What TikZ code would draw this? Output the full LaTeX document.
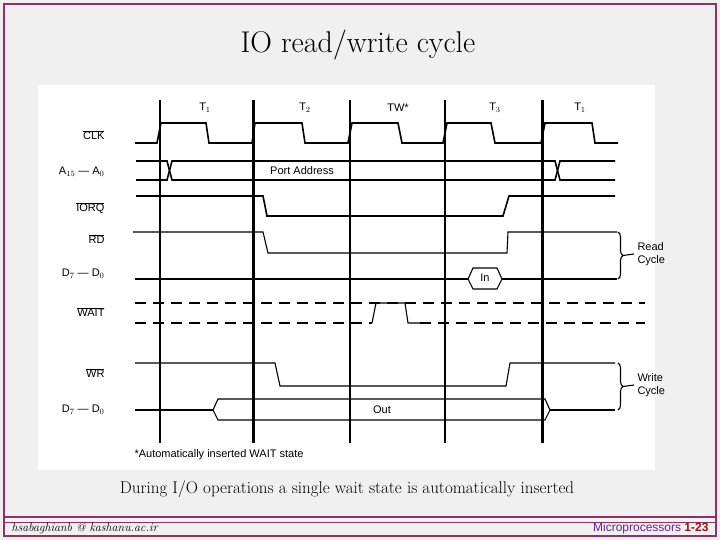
\documentclass[tikz,border=0pt]{standalone}
\usepackage{fontspec}
\setsansfont{Liberation Sans}
\usetikzlibrary{positioning,decorations.pathreplacing}
\definecolor{frame}{RGB}{140,50,100}
\definecolor{num}{RGB}{150,20,30}
\tikzset{
  sig/.style={line width=1.6pt},
  thin sig/.style={line width=1.1pt},
  tick/.style={line width=1.3pt},
  big tick/.style={line width=3pt},
  lbl/.style={font=\sffamily\fontsize{11}{12}\selectfont, anchor=east},
  phase/.style={font=\sffamily\fontsize{11}{12}\selectfont},
  bus text/.style={font=\sffamily\fontsize{11}{12}\selectfont},
  cyc/.style={font=\sffamily\fontsize{11}{13}\selectfont, align=left, anchor=west},
  brc/.style={decorate, decoration={brace, amplitude=5pt}, line width=1.1pt}
}
\begin{document}
\begin{tikzpicture}[x=1pt,y=-1pt]
\useasboundingbox (0,0) rectangle (720,540);
% background and frame
\fill[gray!12] (0,0) rectangle (720,540);
\draw[frame, line width=1.5pt] (4,4) rectangle (716,536);
\draw[frame, line width=2pt] (4,517) -- (716,517);
\draw[frame, line width=1pt] (4,522) -- (716,522);
\fill[white] (38,85) rectangle (655,470);
\node (title) at (358,45) {\fontsize{30}{32}\selectfont IO read/write cycle};

% clock periods
\foreach \x/\s in {160/tick,253/big tick,350/tick,445/tick,542/big tick}
  \draw[\s] (\x,100) -- (\x,443);
\node[phase] (t1) at (205,108) {T$_1$};
\node[phase] (t2) at (305,108) {T$_2$};
\node[phase] (tw) at (398,108) {TW*};
\node[phase] (t3) at (495,108) {T$_3$};
\node[phase] (t4) at (580,108) {T$_1$};

% signal names
\node[lbl] (clk)  at (108,135) {$\overline{\mbox{CLK}}$};
\node[lbl] (addr) at (108,172) {A$_{15}$ --- A$_0$};
\node[lbl] (iorq) at (108,208) {$\overline{\mbox{IORQ}}$};
\node[lbl] (rd)   at (108,239) {$\overline{\mbox{RD}}$};
\node[lbl] (din)  at (108,274) {D$_7$ --- D$_0$};
\node[lbl] (wait) at (108,312) {$\overline{\mbox{WAIT}}$};
\node[lbl] (wr)   at (108,373) {$\overline{\mbox{WR}}$};
\node[lbl] (dout) at (108,410) {D$_7$ --- D$_0$};

% CLK
\draw[sig] (135,143) -- (157,143) -- (161,123) -- (206,123) -- (209,143)
  -- (252,143) -- (255,123) -- (302,123) -- (305,143) -- (348,143)
  -- (352,123) -- (398,123) -- (402,143) -- (443,143) -- (447,123)
  -- (491,123) -- (495,143) -- (541,143) -- (545,123) -- (592,123)
  -- (595,143) -- (618,143);
% address bus
\draw[sig] (136,161) -- (167,161) -- (172,180) -- (555,180) -- (560,161) -- (615,161);
\draw[sig] (136,180) -- (167,180) -- (172,161) -- (555,161) -- (560,180) -- (615,180);
\node[bus text] (port) at (302,171) {Port Address};
% IORQ
\draw[sig] (136,196) -- (263,196) -- (267,216) -- (503,216) -- (509,196) -- (615,196);
% RD
\draw[thin sig] (133,232) -- (263,232) -- (268,253) -- (507,253) -- (508,232) -- (617,232);
% data in
\draw[thin sig] (135,279) -- (468,279);
\draw[thin sig] (502,279) -- (617,279);
\draw[thin sig] (473,268) -- (468,279) -- (473,289) -- (497,289) -- (502,279) -- (497,268) -- cycle;
\node[bus text] (in) at (485,278) {In};
\draw[brc] (618,232) -- (618,279) coordinate[midway] (rdmid);
\node[cyc] (readc) at (634,254) {Read\\Cycle};
\draw[thin sig] ([xshift=5pt]rdmid) -- (readc.west);
% WAIT
\draw[line width=2.4pt, dash pattern=on 11pt off 7pt] (135,303) -- (645,303);
\draw[thin sig, dash pattern=on 11pt off 7pt] (135,323) -- (372,323);
\draw[thin sig] (372,323) -- (376,303) -- (405,303) -- (408,323) -- (420,323);
\draw[thin sig, dash pattern=on 11pt off 7pt] (420,323) -- (645,323);
% WR
\draw[thin sig] (135,363) -- (275,363) -- (280,386) -- (506,386) -- (510,363) -- (615,363);
% data out
\draw[thin sig] (135,410) -- (213,410);
\draw[thin sig] (550,410) -- (615,410);
\draw[thin sig] (218,399) -- (213,410) -- (218,420) -- (545,420) -- (550,410) -- (545,399) -- cycle;
\node[bus text] (out) at (382,410) {Out};
\draw[brc] (618,363) -- (618,410) coordinate[midway] (wrmid);
\node[cyc] (writec) at (634,385) {Write\\Cycle};
\draw[thin sig] ([xshift=5pt]wrmid) -- (writec.west);

\node[bus text, anchor=west] (note) at (131,455) {*Automatically inserted WAIT state};
\node[font=\fontsize{17}{19}\selectfont] (during) at (347,489)
  {During I/O operations a single wait state is automatically inserted};
% footer
\node[anchor=west, font=\itshape\fontsize{12}{13}\selectfont] (mail) at (8,528)
  {hsabaghianb @ kashanu.ac.ir};
\node[anchor=east, font=\sffamily\fontsize{12}{13}\selectfont, text=frame!70!blue] (course) at (712,528)
  {Microprocessors \textcolor{num}{\bfseries 1-23}};
\end{tikzpicture}
\end{document}
